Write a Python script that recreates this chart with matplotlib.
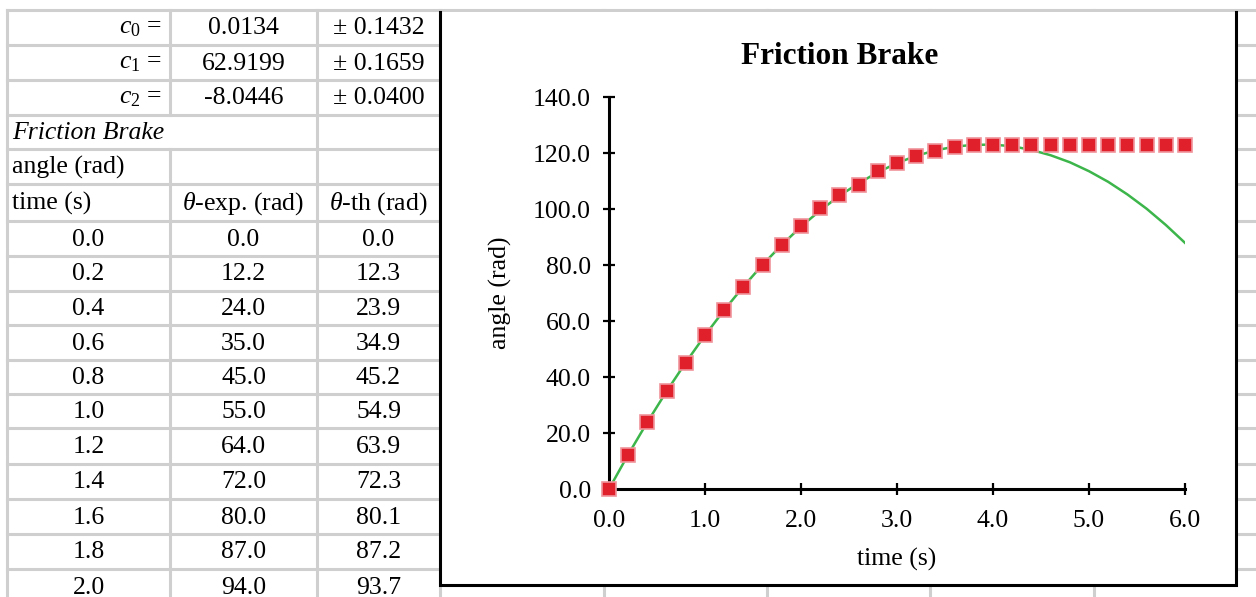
import matplotlib.pyplot as plt
from matplotlib.patches import Rectangle

plt.rcParams['font.family'] = 'Liberation Serif'
plt.rcParams['mathtext.fontset'] = 'custom'
plt.rcParams['mathtext.rm'] = 'Liberation Serif'
plt.rcParams['mathtext.it'] = 'Liberation Serif:italic'

time = [0.0, 0.2, 0.4, 0.6, 0.8, 1.0, 1.2, 1.4, 1.6, 1.8, 2.0,
        2.2, 2.4, 2.6, 2.8, 3.0, 3.2, 3.4, 3.6, 3.8, 4.0,
        4.2, 4.4, 4.6, 4.8, 5.0, 5.2, 5.4, 5.6, 5.8, 6.0]
theta_exp = [0.0, 12.2, 24.0, 35.0, 45.0, 55.0, 64.0, 72.0, 80.0, 87.0, 94.0,
             100.3, 105.0, 108.7, 113.6, 116.4, 119.0, 120.8, 122.0, 122.9, 123.0,
             123.0, 123.0, 123.0, 123.0, 123.0, 123.0, 123.0, 123.0, 123.0, 123.0]
theta_th = [0.0, 12.3, 23.9, 34.9, 45.2, 54.9, 63.9, 72.3, 80.1, 87.2, 93.7,
            99.5, 104.7, 109.2, 113.1, 116.4, 119.0, 120.9, 122.3, 122.9, 123.0,
            122.4, 121.1, 119.2, 116.7, 113.5, 109.7, 105.2, 100.1, 94.3, 87.9]

coef_names = ['$c_0$ =', '$c_1$ =', '$c_2$ =']
coef_values = ['0.0134', '62.9199', '-8.0446']
coef_errors = ['± 0.1432', '± 0.1659', '± 0.0400']
n_rows_shown = 11

W, H = 1256, 597
fig = plt.figure(figsize=(W / 100, H / 100), dpi=100)

# spreadsheet background in pixel coordinates
bg = fig.add_axes([0, 0, 1, 1])
bg.set_xlim(0, W)
bg.set_ylim(H, 0)
bg.axis('off')

grid = '#cfcfcf'
row_edges = [10, 45, 80, 115, 149, 184, 221, 256, 291, 325, 360, 394, 428, 464, 499, 534, 569, 604]
left_cols = [7, 170, 317, 440]
right_cols = [604, 767, 930, 1094]

for y in row_edges:
    bg.plot([7, W], [y, y], color=grid, lw=2.2, zorder=1)
for x in [7, 317, 440] + right_cols:
    bg.plot([x, x], [10, H], color=grid, lw=2.2, zorder=1)
bg.plot([170, 170], [10, 115], color=grid, lw=2.2, zorder=1)
bg.plot([170, 170], [149, H], color=grid, lw=2.2, zorder=1)

fs = 18.5
cx = [(left_cols[i] + left_cols[i + 1]) / 2 for i in range(3)]


def rc(i):
    return (row_edges[i] + row_edges[i + 1]) / 2 + 1


for i in range(3):
    bg.text(162, rc(i), coef_names[i], ha='right', va='center', fontsize=fs)
    bg.text(cx[1], rc(i), coef_values[i], ha='center', va='center', fontsize=fs)
    bg.text(cx[2], rc(i), coef_errors[i], ha='center', va='center', fontsize=fs)
bg.text(12, rc(3), 'Friction Brake', ha='left', va='center', fontsize=fs, style='italic')
bg.text(12, rc(4), 'angle (rad)', ha='left', va='center', fontsize=fs)
bg.text(12, rc(5), 'time (s)', ha='left', va='center', fontsize=fs)
bg.text(cx[1], rc(5), r'$\theta$-exp. (rad)', ha='center', va='center', fontsize=fs)
bg.text(cx[2], rc(5), r'$\theta$-th (rad)', ha='center', va='center', fontsize=fs)
for k in range(n_rows_shown):
    r = 6 + k
    bg.text(cx[0], rc(r), f'{time[k]:.1f}', ha='center', va='center', fontsize=fs)
    bg.text(cx[1], rc(r), f'{theta_exp[k]:.1f}', ha='center', va='center', fontsize=fs)
    bg.text(cx[2], rc(r), f'{theta_th[k]:.1f}', ha='center', va='center', fontsize=fs)

# chart area
bg.add_patch(Rectangle((440, 12), 796, 573, facecolor='white', edgecolor='none', zorder=3))
bg.plot([440, 440, 1236, 1236], [12, 585, 585, 12], color='black', lw=2.2, zorder=4,
        solid_joinstyle='miter')

fig.text(840 / W, 1 - 57 / H, 'Friction Brake', ha='center', va='center',
         fontsize=22.5, fontweight='bold')

ax = fig.add_axes([609 / W, 1 - 489 / H, 576 / W, 392 / H])
ax.set_zorder(5)
ax.patch.set_visible(False)

ax.plot(time, theta_th, color='#3cb54a', lw=1.8, zorder=2)
ax.plot(time, theta_exp, 's', ms=10.5, color='#e0212b', mec='#f0959c', mew=1.2,
        zorder=3, clip_on=False)

ax.set_xlim(0, 6)
ax.set_ylim(0, 140)
ax.set_xticks([0, 1, 2, 3, 4, 5, 6])
ax.set_yticks([0, 20, 40, 60, 80, 100, 120, 140])
ax.xaxis.set_major_formatter(plt.FormatStrFormatter('%.1f'))
ax.yaxis.set_major_formatter(plt.FormatStrFormatter('%.1f'))
for s in ['top', 'right']:
    ax.spines[s].set_visible(False)
for s in ['left', 'bottom']:
    ax.spines[s].set_linewidth(2.2)
ax.tick_params(direction='inout', length=8, width=1.6, labelsize=18.5)
ax.tick_params(axis='y', pad=9)
ax.tick_params(axis='x', pad=11)

ax.set_xlabel('time (s)', fontsize=18.5)
ax.xaxis.set_label_coords(0.5, -0.15)
ax.set_ylabel('angle (rad)', fontsize=18.5)
ax.yaxis.set_label_coords(-0.168, 0.5)

fig.savefig('out.png', dpi=100)
